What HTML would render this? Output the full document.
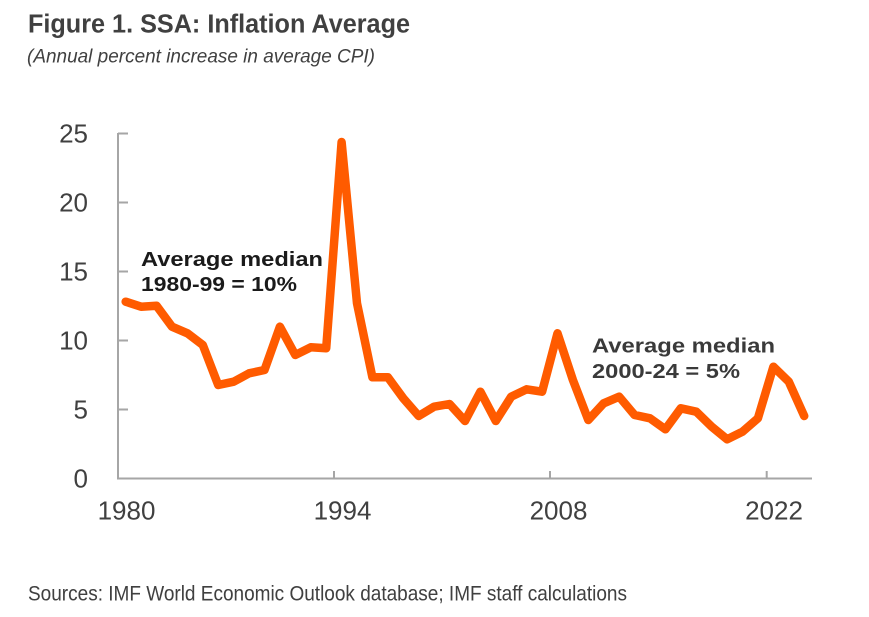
<!DOCTYPE html>
<html>
<head>
<meta charset="utf-8">
<style>
  html, body { margin: 0; padding: 0; background: #ffffff; }
  body { width: 869px; height: 617px; overflow: hidden; }
  svg { display: block; }
  text { font-family: "Liberation Sans", Arial, sans-serif; }
</style>
</head>
<body>
<svg width="869" height="617" viewBox="0 0 869 617" xmlns="http://www.w3.org/2000/svg">
  <rect x="0" y="0" width="869" height="617" fill="#ffffff"/>

  <!-- Title -->
  <text x="28" y="32.5" font-size="25.5" font-weight="bold" fill="#404040" textLength="382" lengthAdjust="spacingAndGlyphs">Figure 1. SSA: Inflation Average</text>
  <text x="27" y="62.5" font-size="19.5" font-style="italic" fill="#404040" textLength="348" lengthAdjust="spacingAndGlyphs">(Annual percent increase in average CPI)</text>

  <!-- Axes -->
  <g stroke="#a6a6a6" stroke-width="2" fill="none">
    <line x1="118" y1="133" x2="118" y2="479.5"/>
    <line x1="117" y1="478.5" x2="812" y2="478.5"/>
    <line x1="118" y1="133.5" x2="128" y2="133.5"/>
    <line x1="118" y1="202.5" x2="128" y2="202.5"/>
    <line x1="118" y1="271.5" x2="128" y2="271.5"/>
    <line x1="118" y1="340.5" x2="128" y2="340.5"/>
    <line x1="118" y1="409.5" x2="128" y2="409.5"/>
    <line x1="334" y1="471" x2="334" y2="478.5"/>
    <line x1="550" y1="471" x2="550" y2="478.5"/>
    <line x1="766.7" y1="471" x2="766.7" y2="478.5"/>
  </g>

  <!-- Y labels -->
  <g font-size="26" fill="#404040" text-anchor="end">
    <text x="88" y="142.5">25</text>
    <text x="88" y="211.5">20</text>
    <text x="88" y="280.5">15</text>
    <text x="88" y="349.5">10</text>
    <text x="88" y="418.5">5</text>
    <text x="88" y="487.5">0</text>
  </g>

  <!-- X labels -->
  <g font-size="26" fill="#404040" text-anchor="middle">
    <text x="126.5" y="519.5">1980</text>
    <text x="342.5" y="519.5">1994</text>
    <text x="558.5" y="519.5">2008</text>
    <text x="774" y="519.5">2022</text>
  </g>

  <!-- Series -->
  <polyline fill="none" stroke="#ff5b00" stroke-width="8.5" stroke-linejoin="round" stroke-linecap="round"
    points="125.7,301.7 141.1,306.7 156.5,305.7 172.0,326.7 187.4,333.3 202.8,345 218.2,385 233.7,381.7 249.1,373.3 264.5,370 279.9,326.7 295.3,355 310.8,347.3 326.2,348.3 341.6,142 357.0,303.3 372.4,377.3 387.9,377.3 403.3,398.3 418.7,416 434.1,406.7 449.5,404 465.0,421 480.4,391.7 495.8,421 511.2,396.7 526.6,389.3 542.1,391.7 557.5,333.3 572.9,380 588.3,420 603.7,403.3 619.2,396.7 634.6,415 650.0,418.3 665.4,429.3 680.8,408.3 696.3,411.7 711.7,426.7 727.1,439.3 742.5,431.7 757.9,418.3 773.4,366.7 788.8,381.7 804.2,416"/>

  <!-- Annotations -->
  <g font-size="20.5" font-weight="bold">
    <text x="141" y="266" fill="#1a1a1a" textLength="182" lengthAdjust="spacingAndGlyphs">Average median</text>
    <text x="141" y="291" fill="#1a1a1a" textLength="156" lengthAdjust="spacingAndGlyphs">1980-99  = 10%</text>
    <text x="592" y="352.5" fill="#3a3a3a" textLength="183" lengthAdjust="spacingAndGlyphs">Average median</text>
    <text x="592" y="378" fill="#3a3a3a" textLength="148" lengthAdjust="spacingAndGlyphs">2000-24  = 5%</text>
  </g>

  <!-- Sources -->
  <text x="28" y="600.5" font-size="21.5" fill="#404040" textLength="599" lengthAdjust="spacingAndGlyphs">Sources: IMF World Economic Outlook database; IMF staff calculations</text>
</svg>
</body>
</html>
